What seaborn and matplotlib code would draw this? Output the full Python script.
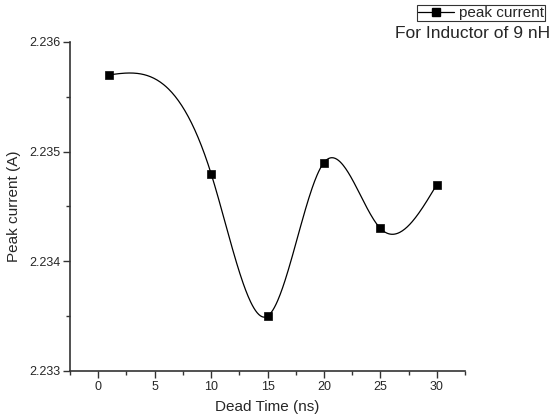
import numpy as np
import pandas as pd
import seaborn as sns
import matplotlib.pyplot as plt
from matplotlib.ticker import MultipleLocator
from matplotlib.lines import Line2D

# data
dead_time = [1, 10, 15, 20, 25, 30]
peak_current = [2.2357, 2.2348, 2.2335, 2.2349, 2.2343, 2.2347]


def natural_spline(x, y, n=400):
    # natural cubic spline, like Origin's "spline" connection
    x = np.asarray(x, float)
    y = np.asarray(y, float)
    h = np.diff(x)
    k = len(x)
    A = np.zeros((k, k))
    b = np.zeros(k)
    A[0, 0] = A[-1, -1] = 1
    for i in range(1, k - 1):
        A[i, i - 1] = h[i - 1]
        A[i, i] = 2 * (h[i - 1] + h[i])
        A[i, i + 1] = h[i]
        b[i] = 6 * ((y[i + 1] - y[i]) / h[i] - (y[i] - y[i - 1]) / h[i - 1])
    M = np.linalg.solve(A, b)
    xs = np.linspace(x[0], x[-1], n)
    idx = np.clip(np.searchsorted(x, xs) - 1, 0, k - 2)
    x0, x1 = x[idx], x[idx + 1]
    hh = x1 - x0
    ys = (M[idx] * (x1 - xs) ** 3 / (6 * hh) + M[idx + 1] * (xs - x0) ** 3 / (6 * hh)
          + (y[idx] / hh - M[idx] * hh / 6) * (x1 - xs)
          + (y[idx + 1] / hh - M[idx + 1] * hh / 6) * (xs - x0))
    return xs, ys


sns.set_style("ticks")
plt.rcParams['font.family'] = ['Liberation Sans', 'DejaVu Sans']

df = pd.DataFrame({'Dead Time (ns)': dead_time, 'Peak current (A)': peak_current})
xs, ys = natural_spline(dead_time, peak_current)

fig = plt.figure(figsize=(5.51, 4.19), dpi=100)
ax = fig.add_axes([0.127, 0.1146, 0.717, 0.7854])

sns.lineplot(x=xs, y=ys, ax=ax, color='black', linewidth=0.9)
sns.scatterplot(data=df, x='Dead Time (ns)', y='Peak current (A)', ax=ax,
                marker='s', s=36, color='black', edgecolor='black', zorder=3)

ax.set_xlim(-2.5, 32.5)
ax.set_ylim(2.233, 2.236)
ax.xaxis.set_major_locator(MultipleLocator(5))
ax.xaxis.set_minor_locator(MultipleLocator(2.5))
ax.yaxis.set_major_locator(MultipleLocator(0.001))
ax.yaxis.set_minor_locator(MultipleLocator(0.0005))
ax.yaxis.set_major_formatter(plt.FormatStrFormatter('%.3f'))
ax.tick_params(which='major', length=5, width=1, labelsize=9, pad=2, color='#333333')
ax.tick_params(which='minor', length=3, width=1, color='#333333')
for s in ['left', 'bottom']:
    ax.spines[s].set_color('#333333')
    ax.spines[s].set_linewidth(1.2)
sns.despine(ax=ax)

ax.set_xlabel('Dead Time (ns)', fontsize=11, labelpad=5)
ax.set_ylabel('Peak current (A)', fontsize=11, labelpad=6)

# legend + annotation placed top-right like the Origin figure
h = Line2D([], [], color='black', marker='s', markersize=6, linewidth=0.9)
leg = fig.legend([h], ['peak current'], loc='upper right', bbox_to_anchor=(0.994, 0.995),
                 fontsize=11, frameon=True, fancybox=False, handlelength=2.4,
                 handletextpad=0.3, borderpad=0.05, borderaxespad=0.2)
leg.get_frame().set_edgecolor('black')
leg.get_frame().set_linewidth(0.8)
fig.text(0.998, 0.921, 'For Inductor of 9 nH', ha='right', va='center', fontsize=12.5)

fig.savefig('out.png', dpi=100)
